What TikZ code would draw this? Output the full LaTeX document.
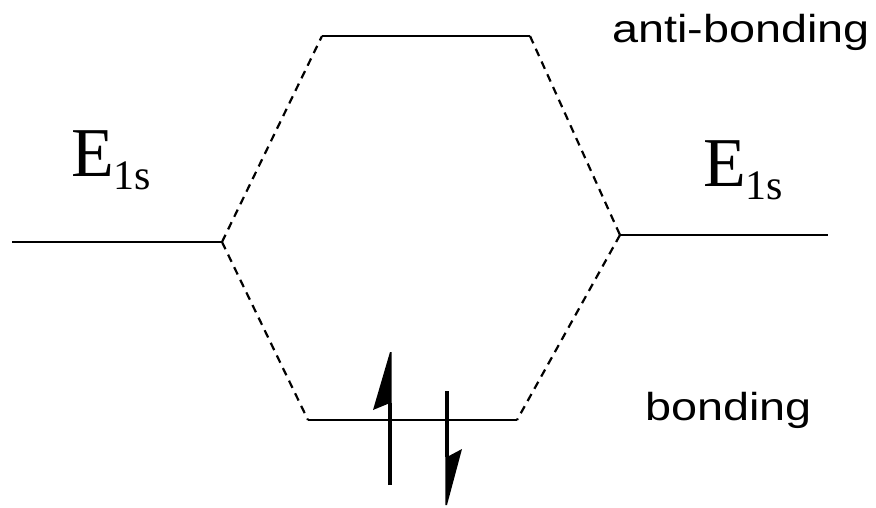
\documentclass[tikz,border=0pt]{standalone}
\usepackage{fontspec}
\setmainfont{Liberation Serif}
\setsansfont{Liberation Sans}
\begin{document}
\begin{tikzpicture}[x=1pt,y=-1pt,
  level/.style={line width=2.8pt},
  corr/.style={line width=2.2pt,dash pattern=on 8pt off 6pt},
  spin/.style={line width=3.2pt},
  head/.style={fill=black},
  lab/.style={font=\fontsize{39}{39}\selectfont\sffamily,xscale=1.2,inner sep=0pt,anchor=base west},
  elab/.style={font=\fontsize{70}{70}\selectfont\rmfamily,inner sep=0pt,anchor=base west}]
\useasboundingbox (0,0) rectangle (876,507);
% level end points
\coordinate (L1) at (12,242);
\coordinate (L2) at (222,242);
\coordinate (R1) at (620,235);
\coordinate (R2) at (828,235);
\coordinate (A1) at (322,36);
\coordinate (A2) at (530,36);
\coordinate (B1) at (308,420);
\coordinate (B2) at (517,420);
% levels
\draw[level] (L1) -- (L2);
\draw[level] (R1) -- (R2);
\draw[level] (A1) -- (A2);
\draw[level] (B1) -- (B2);
% correlation lines
\draw[corr] (L2) -- (A1);
\draw[corr] (A2) -- (R1);
\draw[corr] (L2) -- (B1);
\draw[corr] (R1) -- (B2);
% electrons
\coordinate (u0) at (390,485);
\coordinate (u1) at (390,403);
\coordinate (ut) at (390,352);
\coordinate (ub) at (373,410);
\draw[spin] (u0) -- (u1);
\fill[head] (ut) -- (ub) -- (u1) -- ++(1.6,0) -- ++(0,-51) -- cycle;
\coordinate (d0) at (447,391);
\coordinate (d1) at (447,457);
\coordinate (dt) at (447,505);
\coordinate (db) at (462,449);
\draw[spin] (d0) -- (d1);
\fill[head] (dt) -- (db) -- (d1) -- ++(-1.6,0) -- ++(0,48) -- cycle;
% labels
\node[elab] (eL) at (71,176) {E\raisebox{-13pt}{\fontsize{42}{42}\selectfont 1s}};
\node[elab] (eR) at (703,186) {E\raisebox{-13pt}{\fontsize{42}{42}\selectfont 1s}};
\node[lab] (ab) at (612,42) {anti-bonding};
\node[lab] (bo) at (645,420) {bonding};
\end{tikzpicture}
\end{document}
